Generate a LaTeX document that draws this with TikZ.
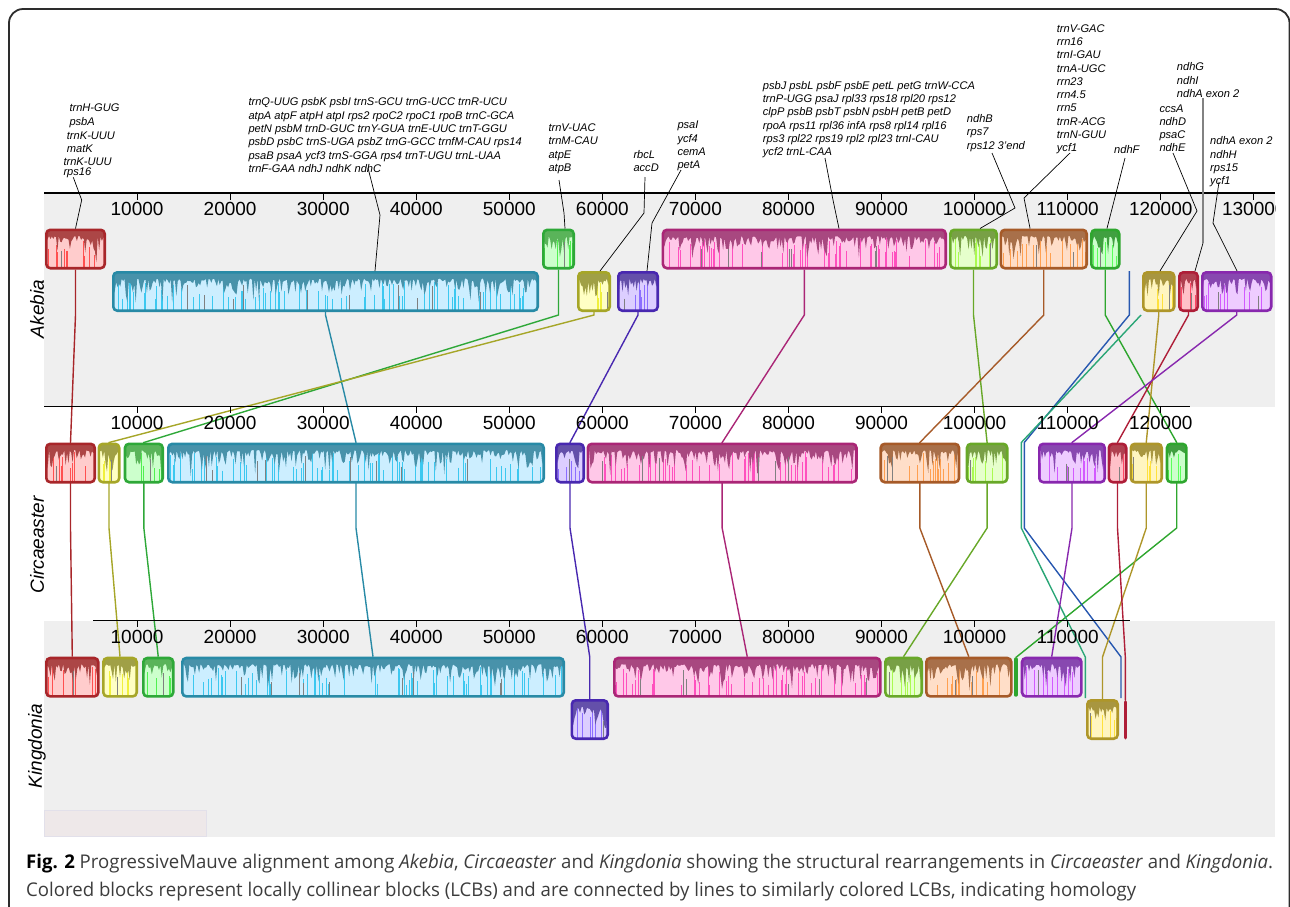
\documentclass[tikz,border=0pt]{standalone}
\usepackage{fontspec}
\setmainfont{Liberation Sans}
\newfontfamily\capfont{Open Sans}
\usetikzlibrary{calc}
\pgfdeclarelayer{panel}
\pgfdeclarelayer{lines}
\pgfsetlayers{panel,lines,main}

\definecolor{panelgray}{RGB}{239,239,239}
\definecolor{paleF}{RGB}{238,232,233}
\definecolor{paleD}{RGB}{226,224,234}
\definecolor{framec}{RGB}{45,45,45}
\definecolor{capgray}{RGB}{60,60,60}
\definecolor{ptrgray}{RGB}{130,130,130}

\definecolor{redB}{RGB}{168,38,42}\definecolor{redL}{RGB}{255,204,204}\definecolor{redD}{RGB}{172,70,70}\definecolor{redX}{RGB}{255,80,80}
\definecolor{cyanB}{RGB}{40,138,166}\definecolor{cyanL}{RGB}{204,238,255}\definecolor{cyanD}{RGB}{72,146,170}\definecolor{cyanX}{RGB}{60,200,240}
\definecolor{grnB}{RGB}{46,168,56}\definecolor{grnL}{RGB}{204,255,204}\definecolor{grnD}{RGB}{90,180,90}\definecolor{grnX}{RGB}{80,240,80}
\definecolor{yelB}{RGB}{166,166,40}\definecolor{yelL}{RGB}{255,255,196}\definecolor{yelD}{RGB}{160,160,70}\definecolor{yelX}{RGB}{240,240,60}
\definecolor{indB}{RGB}{72,40,176}\definecolor{indL}{RGB}{220,206,255}\definecolor{indD}{RGB}{100,80,170}\definecolor{indX}{RGB}{140,110,255}
\definecolor{magB}{RGB}{170,38,118}\definecolor{magL}{RGB}{255,200,232}\definecolor{magD}{RGB}{168,72,128}\definecolor{magX}{RGB}{255,80,190}
\definecolor{limB}{RGB}{104,168,40}\definecolor{limL}{RGB}{230,255,204}\definecolor{limD}{RGB}{120,160,70}\definecolor{limX}{RGB}{170,250,80}
\definecolor{oraB}{RGB}{166,90,40}\definecolor{oraL}{RGB}{255,222,200}\definecolor{oraD}{RGB}{168,112,74}\definecolor{oraX}{RGB}{255,160,80}
\definecolor{gr2B}{RGB}{46,166,46}\definecolor{gr2L}{RGB}{204,255,204}\definecolor{gr2D}{RGB}{64,160,64}\definecolor{gr2X}{RGB}{90,255,90}
\definecolor{gldB}{RGB}{174,150,42}\definecolor{gldL}{RGB}{255,245,192}\definecolor{gldD}{RGB}{168,150,64}\definecolor{gldX}{RGB}{255,225,60}
\definecolor{crmB}{RGB}{174,30,56}\definecolor{crmL}{RGB}{255,192,200}\definecolor{crmD}{RGB}{176,64,80}\definecolor{crmX}{RGB}{255,70,100}
\definecolor{purB}{RGB}{136,40,174}\definecolor{purL}{RGB}{238,204,255}\definecolor{purD}{RGB}{136,72,176}\definecolor{purX}{RGB}{210,90,255}
\definecolor{bluL}{RGB}{40,88,176}
\definecolor{tealL}{RGB}{42,166,118}

\tikzset{
  lcb/.style={rounded corners=4pt, line width=2.6pt, inner sep=0pt, minimum height=38.4pt},
  thinblk/.style={draw=none, inner sep=0pt, minimum width=1pt, minimum height=38.4pt},
  thinbar/.style={line width=3.6pt, line cap=round, draw=#1},
  cn/.style={line width=1.4pt, draw=#1},
  ptr/.style={line width=0.7pt, draw=black},
  lbl/.style={font=\fontsize{11.1}{13.3}\selectfont\itshape, inner sep=0pt, align=left, anchor=north west},
  lblb/.style={font=\fontsize{11.1}{13.3}\selectfont\itshape, inner sep=0pt, anchor=base west},
  axnum/.style={font=\fontsize{19}{22}\selectfont, inner sep=0pt},
  spc/.style={font=\fontsize{19}{22}\selectfont\itshape, inner sep=0pt, rotate=90},
}

\newcommand\lcbprof[3]{%
  \pgfmathtruncatemacro\nbar{max(3,round(#3/1.4))}%
  \pgfmathsetmacro\stp{#3/\nbar}%
  \pgfmathtruncatemacro\nsp{max(1,round(\nbar/4))}%
  \foreach \k in {1,...,\nsp}{%
    \pgfmathsetmacro\xx{#3*rnd}%
    \pgfmathsetmacro\yy{38.4*(0.2+0.5*rnd)}%
    \draw[#2, line width=0.7pt, sharp corners] ([xshift=\xx pt, yshift=-\yy pt]path picture bounding box.north west) -- ([xshift=\xx pt]path picture bounding box.south west);
  }%
  \fill[#1, sharp corners] (path picture bounding box.north west)
    \foreach \k in {0,...,\nbar}{ -- ([xshift={\k*\stp}, yshift={-38.4*(0.16+0.4*rnd*rnd+0.32*(rnd>0.86))}]path picture bounding box.north west) }
    -- (path picture bounding box.north east) -- cycle;
  \pgfmathtruncatemacro\ngr{max(1,round(\nbar/30))}%
  \foreach \k in {1,...,\ngr}{%
    \pgfmathsetmacro\xx{#3*(0.05+0.9*rnd)}%
    \pgfmathsetmacro\yy{38.4*(0.3+0.4*rnd)}%
    \draw[gray, line width=1pt, sharp corners] ([xshift=\xx pt, yshift=-\yy pt]path picture bounding box.north west) -- ([xshift=\xx pt]path picture bounding box.south west);
  }%
}

% name, x0, x1, y-centre, border, fill, dark, bright, seed
\newcommand\blk[9]{%
  \pgfmathsetmacro\bw{#3-#2-2.6}%
  \pgfmathsetseed{#9}%
  \node[lcb, draw=#5, fill=#6, minimum width=\bw pt, path picture={\lcbprof{#7}{#8}{\bw}}] (#1) at ({(#2+#3)/2},#4) {};%
}

\begin{document}
\begin{tikzpicture}[x=1pt,y=-1pt]
\useasboundingbox (0,0) rectangle (1290,906);
\coordinate (aMid) at (0,315);
\coordinate (cMid) at (0,528);
\coordinate (kTop) at (0,657);

% panels
\begin{pgfonlayer}{panel}
\fill[panelgray] (44,193) rectangle (1275,406.5);
\fill[panelgray] (44,620.5) rectangle (1275,837);
\filldraw[fill=paleF, draw=paleD, line width=1.5pt] (44.5,810.5) rectangle (206.5,836.5);
\end{pgfonlayer}

% axes
\draw[line width=1.3pt] (44,193) -- (1275,193);
\foreach \t in {1,...,13} \draw[line width=1pt] ({44+\t*93.058},193) -- ++(0,6.5);
\foreach \t in {1,...,12} \node[axnum] (ta\t) at ({44+\t*93.058},208.5) {\t0000};
\begin{scope}
\clip (44,193) rectangle (1275,230);
\node[axnum] (ta13) at ({44+13*93.058},208.5) {130000};
\end{scope}
\draw[line width=1.3pt] (44,406.5) -- (1190,406.5);
\foreach \t in {1,...,12} \draw[line width=1pt] ({44+\t*93.058},406.5) -- ++(0,6.5);
\foreach \t in {1,...,12} \node[axnum] (tc\t) at ({44+\t*93.058},423) {\t0000};
\draw[line width=1.3pt] (93,620.5) -- (1129.5,620.5);
\foreach \t in {1,...,11} \draw[line width=1pt] ({44+\t*93.058},620.5) -- ++(0,6.5);
\foreach \t in {1,...,11} \node[axnum] (tk\t) at ({44+\t*93.058},636.5) {\t0000};

% species
\node[spc] (sA) at (37,309) {Akebia};
\node[spc] (sC) at (37,545) {Circaeaster};
\node[spc] (sK) at (37,746) {Kingdonia};

% Akebia blocks
\blk{A1}{45}{106}{249}{redB}{redL}{redD}{redX}{11}
\blk{A2}{112}{539}{291.5}{cyanB}{cyanL}{cyanD}{cyanX}{12}
\blk{A3}{542}{575}{249}{grnB}{grnL}{grnD}{grnX}{13}
\blk{A4}{577}{611}{291.5}{yelB}{yelL}{yelD}{yelX}{14}
\blk{A5}{617}{659}{291.5}{indB}{indL}{indD}{indX}{15}
\blk{A6}{661.6}{947}{249}{magB}{magL}{magD}{magX}{16}
\blk{A7}{949}{998}{249}{limB}{limL}{limD}{limX}{17}
\blk{A8}{999.5}{1088}{249}{oraB}{oraL}{oraD}{oraX}{18}
\blk{A9}{1090}{1120.5}{249}{gr2B}{gr2L}{gr2D}{gr2X}{19}
\blk{A12}{1142}{1175.5}{291.5}{gldB}{gldL}{gldD}{gldX}{20}
\blk{A13}{1178}{1199}{291.5}{crmB}{crmL}{crmD}{crmX}{21}
\blk{A14}{1201}{1272.5}{291.5}{purB}{purL}{purD}{purX}{22}
\coordinate (A10) at (1129.3,271);
\coordinate (A11) at (1141,315);

% Circaeaster blocks
\blk{C1}{45}{96}{463}{redB}{redL}{redD}{redX}{31}
\blk{C4}{97.5}{120.5}{463}{yelB}{yelL}{yelD}{yelX}{32}
\blk{C3}{123.7}{164}{463}{grnB}{grnL}{grnD}{grnX}{33}
\blk{C2}{167}{545}{463}{cyanB}{cyanL}{cyanD}{cyanX}{34}
\blk{C5}{555}{585}{463}{indB}{indL}{indD}{indX}{35}
\blk{C6}{586.5}{857.8}{463}{magB}{magL}{magD}{magX}{36}
\blk{C8}{879.4}{960.3}{463}{oraB}{oraL}{oraD}{oraX}{37}
\blk{C7}{965.7}{1008.5}{463}{limB}{limL}{limD}{limX}{38}
\blk{C14}{1038}{1106}{463}{purB}{purL}{purD}{purX}{39}
\blk{C13}{1107.5}{1127.5}{463}{crmB}{crmL}{crmD}{crmX}{40}
\blk{C12}{1129.5}{1163}{463}{gldB}{gldL}{gldD}{gldX}{41}
\blk{C9}{1165.7}{1187.7}{463}{gr2B}{gr2L}{gr2D}{gr2X}{42}
\coordinate (C10) at (1024.3,442.5);
\coordinate (C11) at (1021.3,442.5);

% Kingdonia blocks
\blk{K1}{45}{99.6}{677.2}{redB}{redL}{redD}{redX}{51}
\blk{K4}{102}{138}{677.2}{yelB}{yelL}{yelD}{yelX}{52}
\blk{K3}{142}{174.5}{677.2}{grnB}{grnL}{grnD}{grnX}{53}
\blk{K2}{181}{565}{677.2}{cyanB}{cyanL}{cyanD}{cyanX}{54}
\blk{K5}{570.5}{609}{719.5}{indB}{indL}{indD}{indX}{55}
\blk{K6}{613}{881.5}{677.2}{magB}{magL}{magD}{magX}{56}
\blk{K7}{884}{923}{677.2}{limB}{limL}{limD}{limX}{57}
\blk{K8}{925}{1012.6}{677.2}{oraB}{oraL}{oraD}{oraX}{58}
\blk{K14}{1020.7}{1082.7}{677.2}{purB}{purL}{purD}{purX}{59}
\blk{K12}{1086}{1119}{719.5}{gldB}{gldL}{gldD}{gldX}{60}
\node[thinblk] (K9) at (1015.7,677) {};
\draw[thinbar=gr2B] ([yshift=-1.5pt]K9.north) -- ([yshift=1.5pt]K9.south);
\node[thinblk] (K13) at (1125.3,719.8) {};
\draw[thinbar=crmB] ([yshift=-1.5pt]K13.north) -- ([yshift=1.5pt]K13.south);
\coordinate (K10) at (1121,657);
\coordinate (K10b) at (1121,698);
\coordinate (K11) at (1085.3,657);
\coordinate (K11b) at (1085.3,698);

% connectors
\begin{pgfonlayer}{lines}
\draw[cn=redB] (A1) -- (A1 |- aMid) -- (C1.north) -- (C1 |- cMid) -- (K1.north);
\draw[cn=cyanB] (A2) -- (A2 |- aMid) -- (C2.north) -- (C2 |- cMid) -- (K2.north);
\draw[cn=grnB] (A3) -- (A3 |- aMid) -- (C3.north) -- (C3 |- cMid) -- (K3.north);
\draw[cn=yelB] (A4) -- (A4 |- aMid) -- (C4.north) -- (C4 |- cMid) -- (K4.north);
\draw[cn=indB] (A5) -- (A5 |- aMid) -- (C5.north) -- (C5 |- cMid) -- (K5 |- kTop) -- (K5);
\draw[cn=magB] (A6) -- (A6 |- aMid) -- (C6.north) -- (C6 |- cMid) -- (K6.north);
\draw[cn=limB] (A7) -- (A7 |- aMid) -- (C7.north) -- (C7 |- cMid) -- (K7.north);
\draw[cn=oraB] (A8) -- (A8 |- aMid) -- (C8.north) -- (C8 |- cMid) -- (K8.north);
\draw[cn=gr2B] (A9) -- (A9 |- aMid) -- (C9.north) -- (C9 |- cMid) -- (K9.north);
\draw[cn=bluL] (A10) -- (A10 |- aMid) -- (C10) -- (C10 |- cMid) -- (K10) -- (K10b);
\draw[cn=tealL] (A11) -- (C11) -- (C11 |- cMid) -- (K11) -- (K11b);
\draw[cn=gldB] (A12) -- (A12 |- aMid) -- (C12.north) -- (C12 |- cMid) -- (K12 |- kTop) -- (K12);
\draw[cn=crmB] (A13) -- (A13 |- aMid) -- (C13.north) -- (C13 |- cMid) -- (K13 |- kTop) -- (K13);
\draw[cn=purB] (A14) -- (A14 |- aMid) -- (C14.north) -- (C14 |- cMid) -- (K14.north);
\end{pgfonlayer}

% gene labels
\node[lblb] (r1) at (69.3,111.3) {trnH-GUG};
\node[lblb] (r2) at (69.3,125.7) {psbA};
\node[lblb] (r3) at (66.7,139) {trnK-UUU};
\node[lblb] (r4) at (66.7,152.3) {matK};
\node[lblb] (r5) at (63.3,165.7) {trnK-UUU};
\node[lblb] (r6) at (63.3,175.7) {rps16};
\node[lbl] (LB) at (248.3,97.6) {trnQ-UUG psbK psbI trnS-GCU trnG-UCC trnR-UCU\\atpA atpF atpH atpI rps2 rpoC2 rpoC1 rpoB trnC-GCA\\petN psbM trnD-GUC trnY-GUA trnE-UUC trnT-GGU\\psbD psbC trnS-UGA psbZ trnG-GCC trnfM-CAU rps14\\psaB psaA ycf3 trnS-GGA rps4 trnT-UGU trnL-UAA\\trnF-GAA ndhJ ndhK ndhC};
\node[lbl] (LC) at (548.3,123.6) {trnV-UAC\\trnM-CAU\\atpE\\atpB};
\node[lbl] (LD) at (633.3,149.9) {rbcL\\accD};
\node[lbl] (LE) at (677.3,120.9) {psaI\\ycf4\\cemA\\petA};
\node[lbl] (LF) at (762.7,80.9) {psbJ psbL psbF psbE petL petG trnW-CCA\\trnP-UGG psaJ rpl33 rps18 rpl20 rps12\\clpP psbB psbT psbN psbH petB petD\\rpoA rps11 rpl36 infA rps8 rpl14 rpl16\\rps3 rpl22 rps19 rpl2 rpl23 trnI-CAU\\ycf2 trnL-CAA};
\node[lbl] (LG) at (966.7,114.2) {ndhB\\rps7\\rps12 3'end};
\node[lbl] (LH) at (1056.7,24.2) {trnV-GAC\\rrn16\\trnI-GAU\\trnA-UGC\\rrn23\\rrn4.5\\rrn5\\trnR-ACG\\trnN-GUU\\ycf1};
\node[lbl] (LI) at (1114,145.2) {ndhF};
\node[lbl] (LJ) at (1159.3,104.2) {ccsA\\ndhD\\psaC\\ndhE};
\node[lbl] (LK) at (1176.7,62.6) {ndhG\\ndhI\\ndhA exon 2};
\node[lbl] (LL) at (1210,136.6) {ndhA exon 2\\ndhH\\rps15\\ycf1};

% pointers
\draw[ptr] (73.3,177.3) -- (81.7,200) -- (A1.north);
\draw[ptr] (368,168) -- (380,215) -- ([xshift=49.5pt]A2.north);
\draw[ptr] (559,180) -- (564,213) -- ([xshift=6.5pt]A3.north);
\draw[ptr] (645,177) -- (644,213) -- ([xshift=6pt]A4.north);
\draw[ptr] (681,170) -- (652,223) -- ([xshift=9pt]A5.north);
\draw[ptr] (825,158) -- (833,200) -- ([xshift=34.7pt]A6.north);
\draw[ptr] (992,153) -- (1015,208) -- ([xshift=6.5pt]A7.north);
\draw[ptr] (1070,153) -- (1024,198) -- ([xshift=-13.7pt]A8.north);
\draw[ptr] (1125,158) -- ([xshift=1.7pt]A9.north);
\draw[ptr] (1173,153) -- (1197,211) -- ([xshift=1.2pt]A12.north);
\draw[line width=1.5pt, ptrgray] (1203,98) -- (1203,243);
\draw[ptr] (1203,243) -- ([xshift=6.5pt]A13.north);
\draw[ptr] (1219,182) -- (1213,223) -- ([xshift=0.3pt]A14.north);

% caption
\node[anchor=base west, inner sep=0pt] (cap1) at (26,868) {\resizebox{1247pt}{\height}{\capfont\fontsize{18.9}{22}\selectfont\textbf{Fig. 2} {\color{capgray}ProgressiveMauve alignment among \textit{Akebia}, \textit{Circaeaster} and \textit{Kingdonia} showing the structural rearrangements in \textit{Circaeaster} and \textit{Kingdonia}.}}};
\node[anchor=base west, inner sep=0pt] (cap2) at (26,896) {\resizebox{1110pt}{\height}{\capfont\fontsize{18.9}{22}\selectfont\color{capgray}Colored blocks represent locally collinear blocks (LCBs) and are connected by lines to similarly colored LCBs, indicating homology}};

% frame
\begin{scope}
\clip (0,0) rectangle (1290,906);
\draw[framec, line width=1.8pt, rounded corners=14pt] (9,9) rectangle (1289.5,940);
\end{scope}
\end{tikzpicture}
\end{document}
